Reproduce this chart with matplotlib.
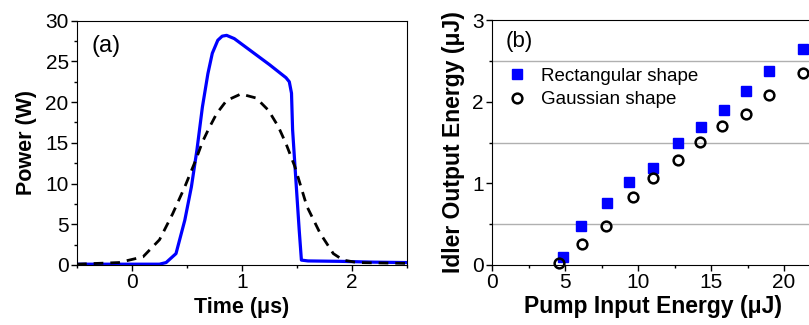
import matplotlib
matplotlib.use("Agg")
import matplotlib.pyplot as plt

plt.rcParams['font.family'] = ['Liberation Sans', 'DejaVu Sans']

# Panel (a): pulse shapes
rect_t = [-0.5, 0.0, 0.25, 0.31, 0.40, 0.48, 0.54, 0.59, 0.64, 0.69, 0.73, 0.78, 0.82, 0.86,
          0.93, 1.07, 1.25, 1.40, 1.43, 1.45, 1.46, 1.49, 1.52, 1.54, 1.60, 1.89, 2.20, 2.50]
rect_p = [0.1, 0.1, 0.1, 0.3, 1.4, 5.5, 9.6, 14.1, 19.4, 23.5, 26.0, 27.6, 28.1, 28.2,
          27.8, 26.4, 24.6, 23.0, 22.5, 21.1, 16.6, 10.4, 4.3, 0.6, 0.5, 0.45, 0.35, 0.3]
gauss_t = [-0.5, -0.12, 0.10, 0.25, 0.37, 0.48, 0.58, 0.64, 0.70, 0.77, 0.86, 0.99, 1.13,
           1.24, 1.33, 1.40, 1.48, 1.59, 1.71, 1.83, 1.92, 2.05, 2.50]
gauss_p = [0.1, 0.3, 1.0, 3.1, 6.3, 9.6, 12.9, 15.1, 16.8, 18.6, 20.2, 21.0, 20.5,
           19.0, 17.0, 14.9, 12.1, 7.2, 3.9, 1.4, 0.6, 0.3, 0.2]

# Panel (b): idler output vs pump input
rect_x = [4.87, 6.08, 7.84, 9.37, 11.04, 12.75, 14.31, 15.89, 17.39, 18.97, 21.33]
rect_y = [0.10, 0.48, 0.76, 1.02, 1.19, 1.49, 1.69, 1.90, 2.13, 2.37, 2.65]
gaus_x = [4.57, 6.17, 7.77, 9.62, 11.02, 12.75, 14.26, 15.77, 17.37, 19.00, 21.33]
gaus_y = [0.02, 0.26, 0.48, 0.83, 1.06, 1.28, 1.51, 1.70, 1.85, 2.08, 2.35]

fig = plt.figure(figsize=(8.09, 3.25), dpi=100)

W, H = 809, 325
def pos(l, r, t, b):
    return [l / W, (H - b) / H, (r - l) / W, (b - t) / H]

blue = '#0000ff'
TICK = 15

ax1 = fig.add_axes(pos(77, 407, 20.7, 265))
ax1.plot(rect_t, rect_p, color=blue, lw=2.3)
ax1.plot(gauss_t, gauss_p, color='black', lw=2.0, ls=(0, (3.5, 2.5)))
ax1.set_xlim(-0.5, 2.5)
ax1.set_ylim(0, 30)
ax1.set_xticks([0, 1, 2])
ax1.set_xticks([-0.5, 0.5, 1.5, 2.5], minor=True)
ax1.set_yticks([0, 5, 10, 15, 20, 25, 30])
ax1.set_yticks([2.5, 7.5, 12.5, 17.5, 22.5, 27.5], minor=True)
ax1.tick_params(labelsize=TICK, direction='out', length=4, width=1, pad=2)
ax1.tick_params(which='minor', direction='out', length=2.5, width=1)
ax1.set_xlabel('Time (μs)', fontsize=15.5, fontweight='bold', labelpad=3)
ax1.set_ylabel('Power (W)', fontsize=15.5, fontweight='bold', labelpad=6)
ax1.text(0.045, 0.94, '(a)', transform=ax1.transAxes, fontsize=17, va='top', ha='left')

# right axes extends slightly beyond the figure edge (cropped in reference)
x0, x20 = 492.3, 784.0
ppu = (x20 - x0) / 20
xmax = 22
ax2 = fig.add_axes(pos(x0, x0 + xmax * ppu, 20, 265))
for yy in [0.5, 1.5, 2.5]:
    ax2.axhline(yy, color='#b0b0b0', lw=1.0, zorder=0)
ax2.plot(rect_x, rect_y, ls='none', marker='s', ms=7.5, color=blue, mec=blue,
         label='Rectangular shape', clip_on=False)
ax2.plot(gaus_x, gaus_y, ls='none', marker='o', ms=7, mfc='none', mec='black', mew=1.8,
         label='Gaussian shape', clip_on=False)
ax2.set_xlim(0, xmax)
ax2.set_ylim(0, 3)
ax2.set_xticks([0, 5, 10, 15, 20])
ax2.set_xticks([2.5, 7.5, 12.5, 17.5], minor=True)
ax2.set_yticks([0, 1, 2, 3])
ax2.set_yticks([0.5, 1.5, 2.5], minor=True)
ax2.tick_params(labelsize=TICK, direction='out', length=4, width=1, pad=2)
ax2.tick_params(which='minor', direction='out', length=2.5, width=1)
ax2.set_xlabel('Pump Input Energy (μJ)', fontsize=16.5, fontweight='bold', labelpad=2)
ax2.set_ylabel('Idler Output Energy (μJ)', fontsize=16.5, fontweight='bold', labelpad=5)
ax2.text(0.04, 0.955, '(b)', transform=ax2.transAxes, fontsize=16, va='top', ha='left')
ax2.legend(loc='upper left', bbox_to_anchor=(0.0, 0.86), frameon=False, fontsize=13.5,
           handletextpad=0.7, borderaxespad=0.3, labelspacing=0.35, handlelength=1.2)

fig.savefig('out.png', dpi=100)
